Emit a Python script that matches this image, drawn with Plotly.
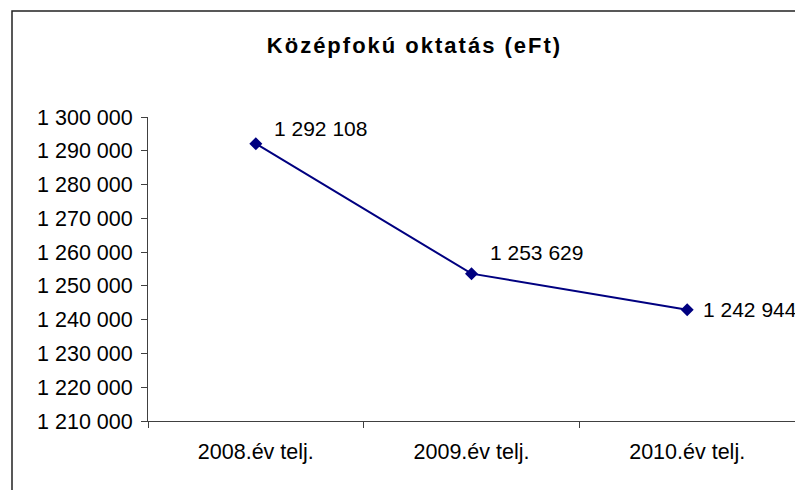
import plotly.graph_objects as go

categories = ["2008.év telj.", "2009.év telj.", "2010.év telj."]
values = [1292108, 1253629, 1242944]
y_ticks = [1210000, 1220000, 1230000, 1240000, 1250000, 1260000, 1270000, 1280000, 1290000, 1300000]
label_shift_x = [16, 16, 14]
label_shift_y = [15, 21, 0]

def fmt(v):
    return f"{v:,}".replace(",", " ")

FONT = "Liberation Sans, Arial, sans-serif"
FS = 21.5

# page has an 8px body margin; figure coordinates = screen - 8
OFF = 8
FW, FH = 803 - OFF, 490 - OFF
L, R, T, B = 148 - OFF, 795 - OFF, 117 - OFF, 421 - OFF
W, H = R - L, B - T

fig = go.Figure()
fig.add_trace(go.Scatter(
    x=categories, y=values, mode="lines+markers",
    line=dict(color="#000080", width=2),
    marker=dict(symbol="diamond", size=10, color="#000080"),
    hoverinfo="skip", showlegend=False,
))

for c, v, sx, sy in zip(categories, values, label_shift_x, label_shift_y):
    fig.add_annotation(x=c, y=v, text=fmt(v), showarrow=False,
                       xanchor="left", yanchor="middle", xshift=sx, yshift=sy,
                       font=dict(family=FONT, size=21, color="black"))

def px(x):
    return (x - OFF - L) / W
def py(y):
    return (B - (y - OFF)) / H
fig.add_shape(type="rect", xref="paper", yref="paper",
              x0=px(12), y0=py(11), x1=px(830), y1=py(520),
              line=dict(color="#222222", width=1.5), fillcolor="rgba(0,0,0,0)")

fig.update_layout(
    width=FW, height=FH,
    margin=dict(l=L, r=FW - R, t=T, b=FH - B),
    paper_bgcolor="white", plot_bgcolor="white",
    separators=". ",
    title=dict(text='<span style="letter-spacing:2px">Középfokú oktatás (eFt)</span>',
               x=(414.5 - OFF) / FW, xanchor="center", y=1 - (45 - OFF) / FH, yanchor="middle",
               font=dict(family=FONT, size=22, color="black", weight="bold")),
    font=dict(family=FONT, size=FS, color="black"),
)
fig.update_xaxes(
    type="category", range=[-0.5, 2.5], tickson="boundaries",
    showline=True, linecolor="#404040", linewidth=1,
    ticks="outside", ticklen=6, tickcolor="#404040",
    showgrid=False, zeroline=False, ticklabelstandoff=11,
    tickfont=dict(family=FONT, size=FS, color="black"),
)
fig.update_yaxes(
    range=[1210000, 1300000], tickvals=y_ticks,
    ticktext=[fmt(t) for t in y_ticks],
    showline=True, linecolor="#404040", linewidth=1,
    ticks="outside", ticklen=6, tickcolor="#404040",
    showgrid=False, zeroline=False, ticklabelstandoff=4,
    tickfont=dict(family=FONT, size=FS, color="black"),
)

fig.write_html("out.html")
